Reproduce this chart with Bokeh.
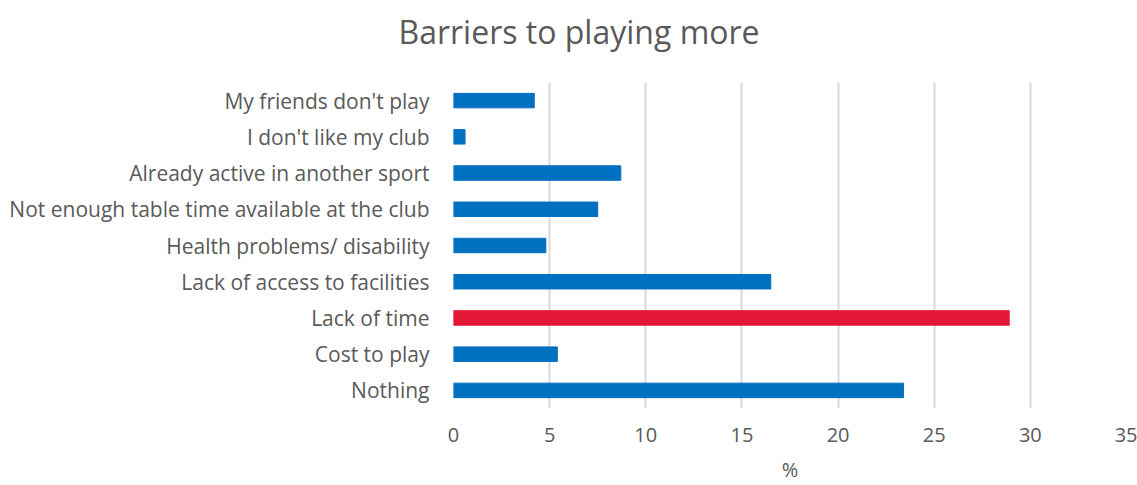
from bokeh.plotting import figure
from bokeh.models import ColumnDataSource, FactorRange, Range1d, Title, FixedTicker
from bokeh.embed import file_html
from bokeh.resources import INLINE

# ---- data (top to bottom as shown) ----
categories = [
    "My friends don't play",
    "I don't like my club",
    "Already active in another sport",
    "Not enough table time available at the club",
    "Health problems/ disability",
    "Lack of access to facilities",
    "Lack of time",
    "Cost to play",
    "Nothing",
]
percent = [4.2, 0.6, 8.7, 7.5, 4.8, 16.5, 28.9, 5.4, 23.4]
highlight = "Lack of time"
x_ticks = [0, 5, 10, 15, 20, 25, 30, 35]
title_text = "Barriers to playing more"

BLUE = "#0070C0"
RED = "#E31837"
TEXT = "#595959"
GRID = "#D9D9D9"
FONT = "Open Sans"

colors = [RED if c == highlight else BLUE for c in categories]
src = ColumnDataSource(dict(cat=categories, val=percent, color=colors))

p = figure(
    width=1137, height=485,
    y_range=FactorRange(factors=list(reversed(categories))),
    x_range=Range1d(0, 35),
    output_backend="svg", toolbar_location=None,
    min_border_left=453, min_border_right=11, min_border_top=82, min_border_bottom=70,
)
p.title = None
# empty spacer between the title and the plot area
spacer = Title(text=" ", standoff=9, text_font=FONT, text_font_size="14px")
p.add_layout(spacer, "above")
t = Title(text=title_text, align="left", offset=-55, standoff=0,
          text_font=FONT, text_font_size="32px", text_font_style="normal",
          text_color=TEXT)
p.add_layout(t, "above")

p.hbar(y="cat", right="val", left=0, height=0.4, color="color", source=src)

p.outline_line_color = None
p.background_fill_color = "white"
p.border_fill_color = "white"

p.ygrid.grid_line_color = None
p.xgrid.grid_line_color = GRID
p.xgrid.grid_line_width = 2
p.xaxis.ticker = FixedTicker(ticks=x_ticks)

for ax in (p.xaxis, p.yaxis):
    ax.axis_line_color = None
    ax.major_tick_line_color = None
    ax.minor_tick_line_color = None
    ax.major_label_text_font = FONT
    ax.major_label_text_color = TEXT

p.xaxis.major_label_text_font_size = "20px"
p.yaxis.major_label_text_font_size = "21px"
p.yaxis.major_label_standoff = 18
p.xaxis.major_label_standoff = 13
p.xaxis.axis_label = "%"
p.xaxis.axis_label_text_font = FONT
p.xaxis.axis_label_text_font_size = "20px"
p.xaxis.axis_label_text_font_style = "normal"
p.xaxis.axis_label_text_color = TEXT
p.xaxis.axis_label_standoff = 11

open("out.html", "w").write(file_html(p, INLINE))
